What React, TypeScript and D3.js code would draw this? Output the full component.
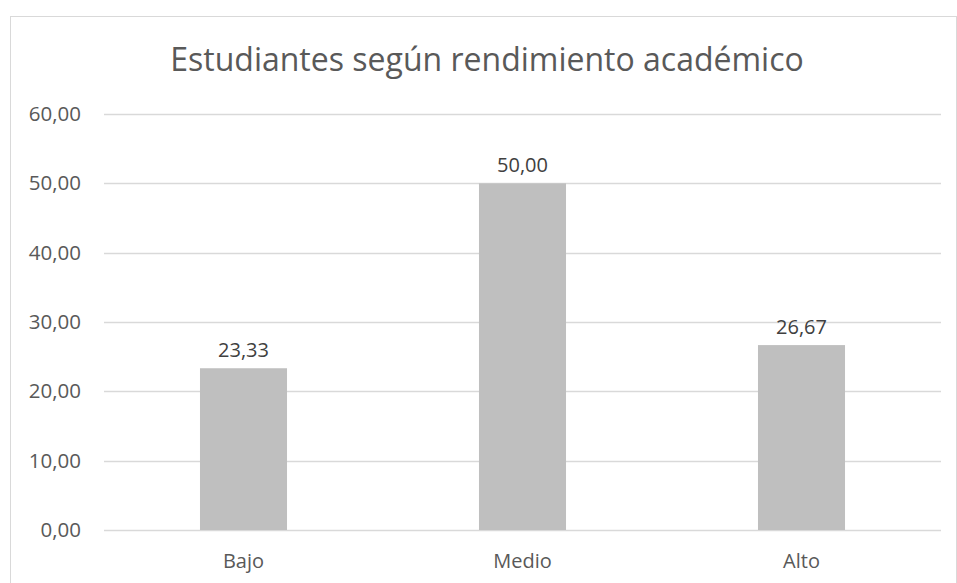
import React, { useEffect, useRef } from "react";
import * as d3 from "d3";

const categories = ["Bajo", "Medio", "Alto"];
const values = [23.33, 50.0, 26.67];
const yTicks = [0, 10, 20, 30, 40, 50, 60];
const title = "Estudiantes según rendimiento académico";

const fmt = (v: number) => v.toFixed(2).replace(".", ",");

export default function App() {
  const ref = useRef<SVGSVGElement | null>(null);

  useEffect(() => {
    document.body.style.margin = "0";
    const svg = d3.select(ref.current);
    svg.selectAll("*").remove();

    const width = 957;
    const height = 583;
    const margin = { top: 114, right: 16, bottom: 53, left: 104 };
    const innerW = width - margin.left - margin.right;
    const innerH = height - margin.top - margin.bottom;
    const font = "'Open Sans', sans-serif";
    const textColor = "#595959";

    // chart frame
    svg
      .append("rect")
      .attr("x", 10.5)
      .attr("y", 16.5)
      .attr("width", 946)
      .attr("height", 600)
      .attr("fill", "#fff")
      .attr("stroke", "#d9d9d9")
      .attr("stroke-width", 1);

    svg
      .append("text")
      .attr("x", 487)
      .attr("y", 71)
      .attr("text-anchor", "middle")
      .attr("font-family", font)
      .attr("font-size", 32)
      .attr("fill", textColor)
      .text(title);

    const g = svg.append("g").attr("transform", `translate(${margin.left},${margin.top})`);

    const x = d3.scaleBand<string>().domain(categories).range([0, innerW]).padding(0);
    const y = d3.scaleLinear().domain([0, 60]).range([innerH, 0]);

    g.append("g")
      .selectAll("line")
      .data(yTicks)
      .join("line")
      .attr("x1", 0)
      .attr("x2", innerW)
      .attr("y1", (d) => Math.round(y(d)) + 0.5)
      .attr("y2", (d) => Math.round(y(d)) + 0.5)
      .attr("stroke", "#d9d9d9")
      .attr("stroke-width", 1.5);

    g.append("g")
      .selectAll("text")
      .data(yTicks)
      .join("text")
      .attr("x", -23)
      .attr("y", (d) => y(d) + 7)
      .attr("text-anchor", "end")
      .attr("font-family", font)
      .attr("font-size", 20.5)
      .attr("fill", textColor)
      .text((d) => fmt(d));

    const barW = x.bandwidth() * 0.312;
    const data = categories.map((c, i) => ({ c, v: values[i] }));

    g.append("g")
      .selectAll("rect")
      .data(data)
      .join("rect")
      .attr("x", (d) => (x(d.c) ?? 0) + x.bandwidth() / 2 - barW / 2)
      .attr("y", (d) => y(d.v))
      .attr("width", barW)
      .attr("height", (d) => innerH - y(d.v))
      .attr("fill", "#bfbfbf");

    g.append("g")
      .selectAll("text")
      .data(data)
      .join("text")
      .attr("x", (d) => (x(d.c) ?? 0) + x.bandwidth() / 2)
      .attr("y", (d) => y(d.v) - 11)
      .attr("text-anchor", "middle")
      .attr("font-family", font)
      .attr("font-size", 20)
      .attr("fill", "#404040")
      .text((d) => fmt(d.v));

    g.append("g")
      .selectAll("text")
      .data(categories)
      .join("text")
      .attr("x", (d) => (x(d) ?? 0) + x.bandwidth() / 2)
      .attr("y", innerH + 38)
      .attr("text-anchor", "middle")
      .attr("font-family", font)
      .attr("font-size", 20)
      .attr("fill", textColor)
      .text((d) => d);
  }, []);

  return <svg ref={ref} width={957} height={583} style={{ display: "block" }} />;
}
